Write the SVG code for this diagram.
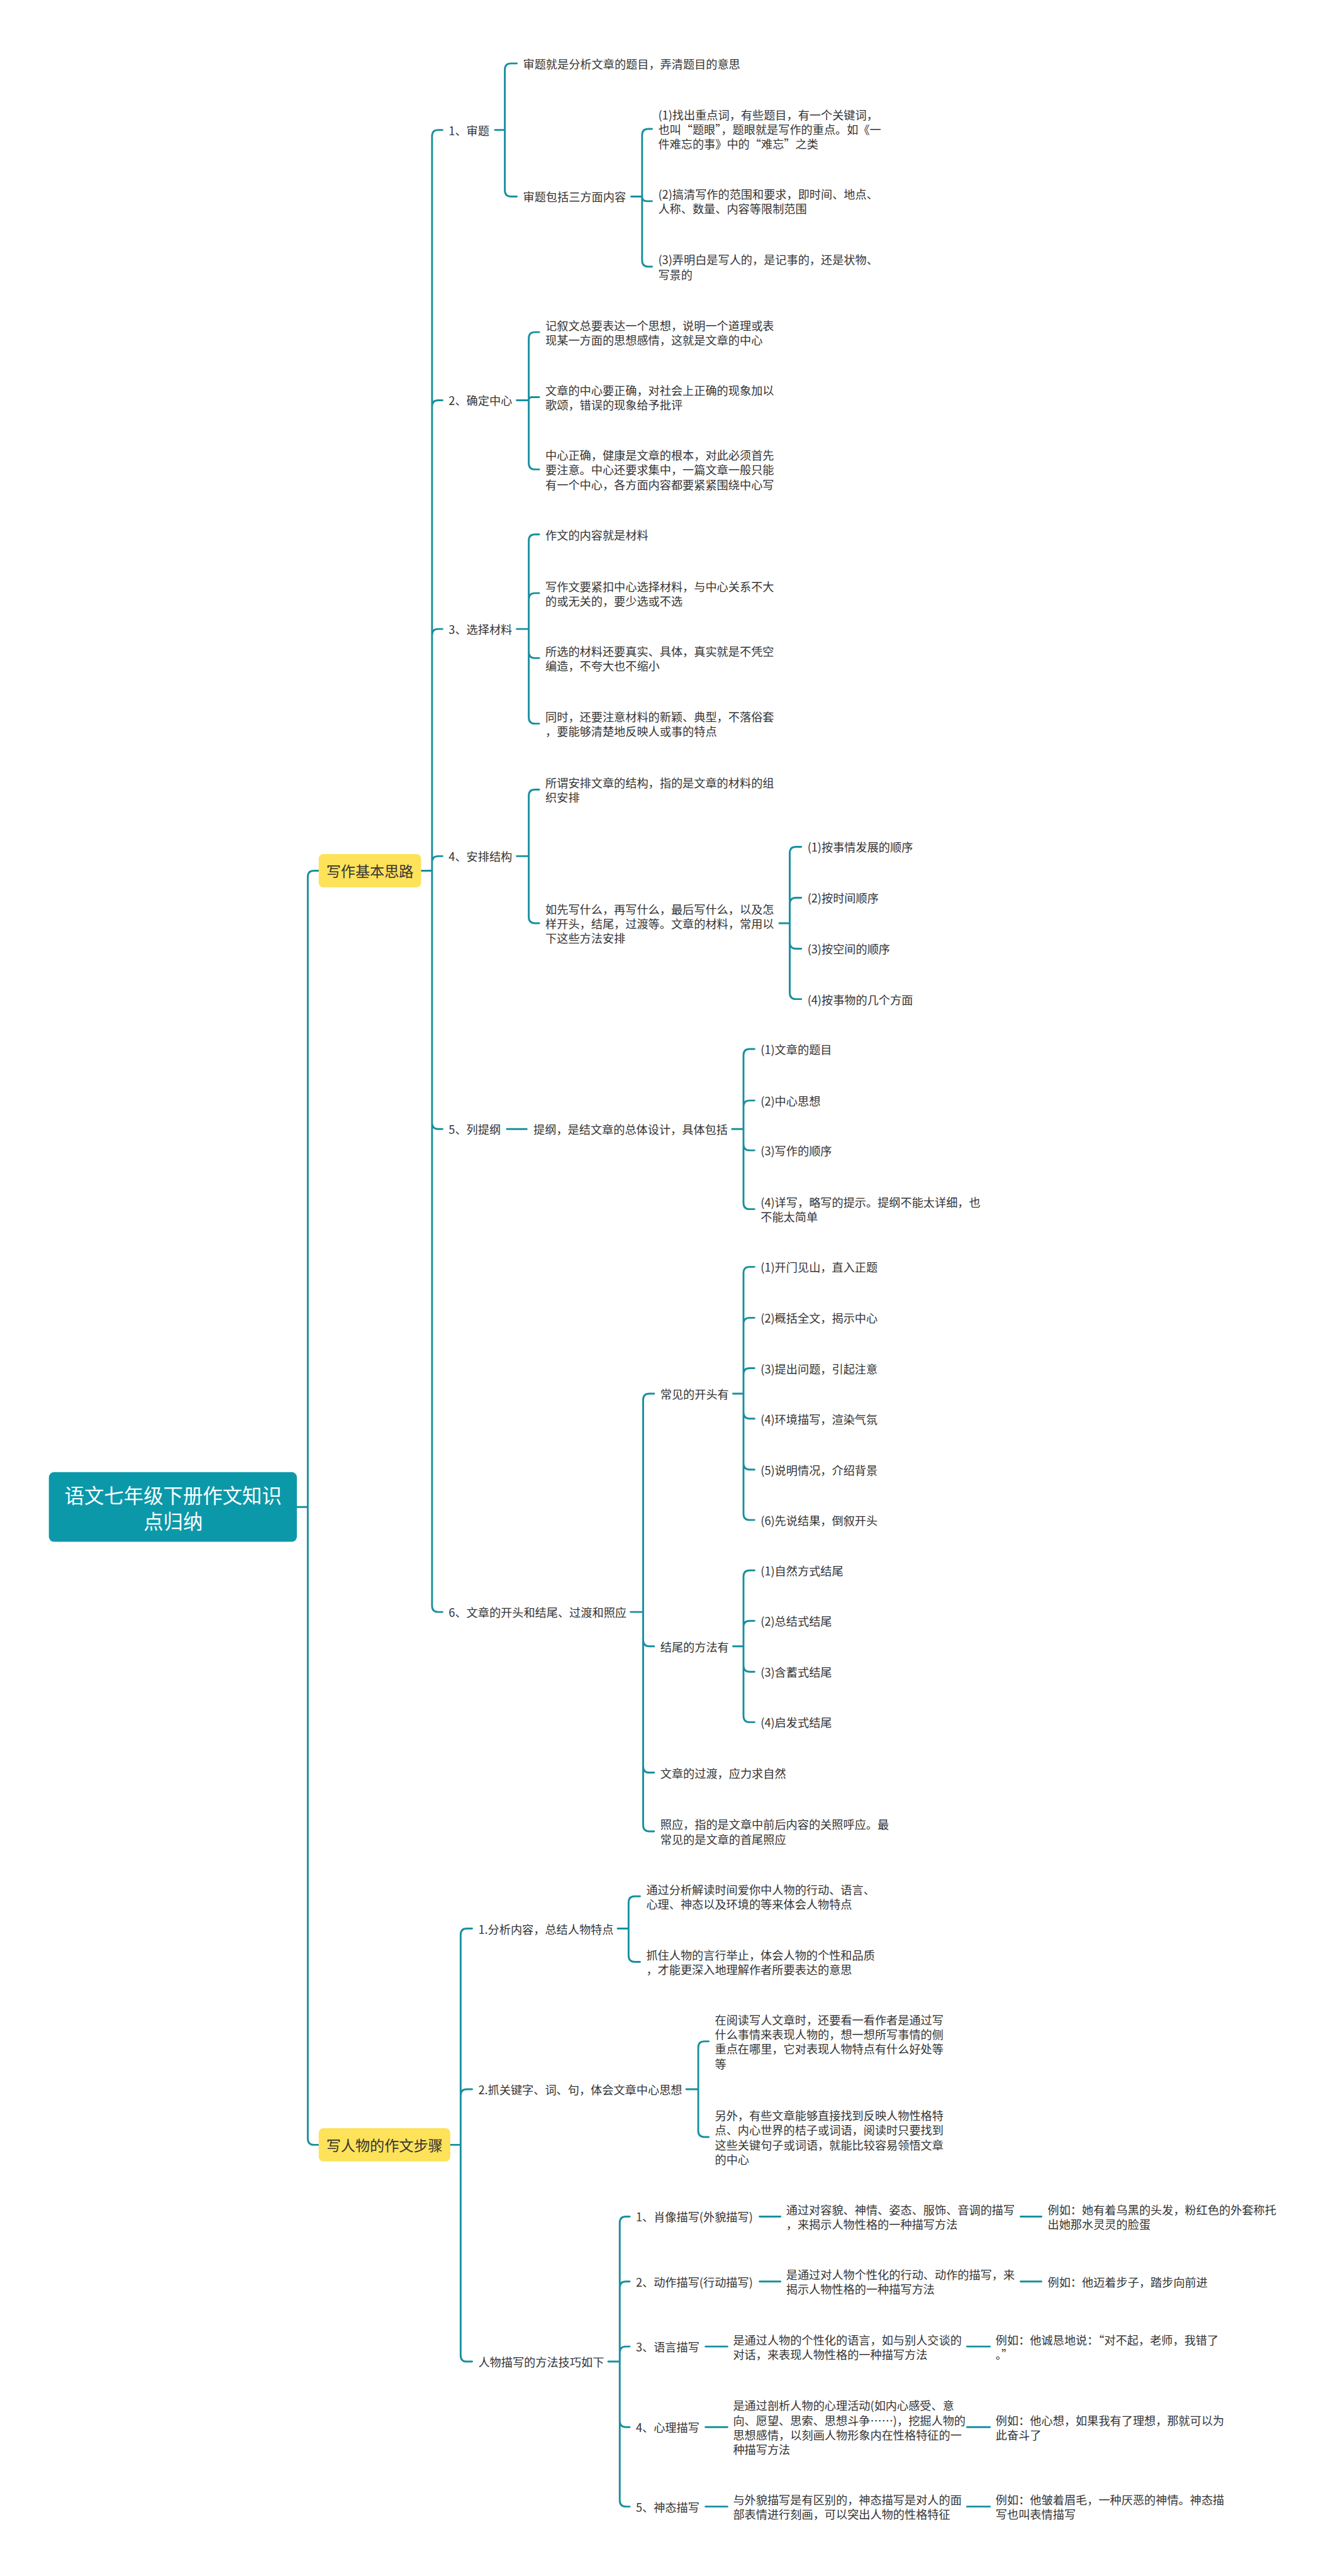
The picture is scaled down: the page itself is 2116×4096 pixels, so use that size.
<svg xmlns="http://www.w3.org/2000/svg" width="2116" height="4096" viewBox="0 0 2116 4096">
<style>
.t{font-family:"Noto Sans CJK SC","Noto Sans",sans-serif;font-size:22px;fill:#333333;dominant-baseline:central}
.l1{font-size:28px;fill:#333333}
.root{font-family:"Noto Sans CJK SC","Noto Sans",sans-serif;font-size:38px;fill:#ffffff;text-anchor:middle;dominant-baseline:central}
.mid{text-anchor:middle}
.c{fill:none;stroke:#17909e;stroke-width:3.5;stroke-linecap:round;stroke-linejoin:round}
.yb{fill:#fde25a}
</style>
<rect width="2116" height="4096" fill="#ffffff"/>
<g transform="scale(0.82656)">
<g id="connectors" class="c">
<path d="M571 2899H592M592 2899V1687Q592 1675 604 1675H613M592 2899V4114Q592 4126 604 4126H613"/>
<path d="M810 1675H831M831 1675V262Q831 250 843 250H851M831 1675V782Q831 770 843 770H851M831 1675V1222Q831 1210 843 1210H851M831 1675V1659Q831 1647 843 1647H851M831 1675V2160Q831 2172 843 2172H851M831 1675V3089Q831 3101 843 3101H851"/>
<path d="M952 250H971M971 250V134Q971 122 983 122H994M971 250V366Q971 378 983 378H994"/>
<path d="M1214 378H1235M1235 378V260Q1235 248 1247 248H1254M1235 378Q1235 387 1244 387H1254M1235 378V501Q1235 513 1247 513H1254"/>
<path d="M994 770H1017M1017 770V651Q1017 639 1029 639H1037M1017 770Q1017 764 1023 764H1037M1017 770V891Q1017 903 1029 903H1037"/>
<path d="M994 1210H1017M1017 1210V1040Q1017 1028 1029 1028H1037M1017 1210V1153Q1017 1141 1029 1141H1037M1017 1210V1254Q1017 1266 1029 1266H1037M1017 1210V1380Q1017 1392 1029 1392H1037"/>
<path d="M994 1647H1017M1017 1647V1531Q1017 1519 1029 1519H1037M1017 1647V1764Q1017 1776 1029 1776H1037"/>
<path d="M1499 1776H1519M1519 1776V1641Q1519 1629 1531 1629H1541M1519 1776V1739Q1519 1727 1531 1727H1541M1519 1776V1813Q1519 1825 1531 1825H1541M1519 1776V1910Q1519 1922 1531 1922H1541"/>
<path d="M975 2172H1013M1408 2172H1430M1430 2172V2030Q1430 2018 1442 2018H1451M1430 2172V2129Q1430 2117 1442 2117H1451M1430 2172V2201Q1430 2213 1442 2213H1451M1430 2172V2314Q1430 2326 1442 2326H1451"/>
<path d="M1213 3101H1237M1237 3101V2693Q1237 2681 1249 2681H1258M1237 3101V3155Q1237 3167 1249 3167H1258M1237 3101V3398Q1237 3410 1249 3410H1258M1237 3101V3511Q1237 3523 1249 3523H1258"/>
<path d="M1410 2681H1430M1430 2681V2449Q1430 2437 1442 2437H1451M1430 2681V2547Q1430 2535 1442 2535H1451M1430 2681V2644Q1430 2632 1442 2632H1451M1430 2681V2717Q1430 2729 1442 2729H1451M1430 2681V2815Q1430 2827 1442 2827H1451M1430 2681V2912Q1430 2924 1442 2924H1451"/>
<path d="M1410 3167H1430M1430 3167V3033Q1430 3021 1442 3021H1451M1430 3167V3130Q1430 3118 1442 3118H1451M1430 3167V3204Q1430 3216 1442 3216H1451M1430 3167V3301Q1430 3313 1442 3313H1451"/>
<path d="M866 4126H886M886 4126V3722Q886 3710 898 3710H908M886 4126V4031Q886 4019 898 4019H908M886 4126V4531Q886 4543 898 4543H908"/>
<path d="M1188 3710H1209M1209 3710V3660Q1209 3648 1221 3648H1231M1209 3710V3762Q1209 3774 1221 3774H1231"/>
<path d="M1320 4019H1343M1343 4019V3939Q1343 3927 1355 3927H1363M1343 4019V4099Q1343 4111 1355 4111H1363"/>
<path d="M1170 4543H1192M1192 4543V4276Q1192 4264 1204 4264H1211M1192 4543V4401Q1192 4389 1204 4389H1211M1192 4543V4526Q1192 4514 1204 4514H1211M1192 4543V4657Q1192 4669 1204 4669H1211M1192 4543V4810Q1192 4822 1204 4822H1211"/>
<path d="M1461 4264H1501M1963 4264H2003M1461 4389H1501M1963 4389H2003M1357 4514H1399M1860 4514H1904M1357 4669H1399M1860 4669H1904M1357 4822H1399M1860 4822H1904"/>
</g>

<g id="n-root"><rect x="94" y="2832" width="477" height="134" rx="10" fill="#0b99aa"/><text class="root"><tspan x="333" y="2874">语文七年级下册作文知识</tspan><tspan x="333" y="2924">点归纳</tspan></text></g>

<g id="n-b1"><rect class="yb" x="613" y="1643" width="197" height="64" rx="9"/><text class="t l1 mid" x="711.5" y="1675">写作基本思路</text></g>
<g id="n-b2"><rect class="yb" x="613" y="4094" width="253" height="64" rx="9"/><text class="t l1 mid" x="739.5" y="4126">写人物的作文步骤</text></g>

<g id="n-1"><text class="t" x="863" y="250">1、审题</text></g>
<g id="n-1a"><text class="t" x="1006" y="122">审题就是分析文章的题目，弄清题目的意思</text></g>
<g id="n-1b"><text class="t" x="1006" y="378">审题包括三方面内容</text></g>
<g id="n-1b1"><text class="t"><tspan x="1266" y="220">(1)找出重点词，有些题目，有一个关键词，</tspan><tspan x="1266" y="248">也叫“题眼”，题眼就是写作的重点。如《一</tspan><tspan x="1266" y="276">件难忘的事》中的“难忘”之类</tspan></text></g>
<g id="n-1b2"><text class="t"><tspan x="1266" y="373">(2)搞清写作的范围和要求，即时间、地点、</tspan><tspan x="1266" y="401">人称、数量、内容等限制范围</tspan></text></g>
<g id="n-1b3"><text class="t"><tspan x="1266" y="499">(3)弄明白是写人的，是记事的，还是状物、</tspan><tspan x="1266" y="527">写景的</tspan></text></g>

<g id="n-2"><text class="t" x="863" y="770">2、确定中心</text></g>
<g id="n-2a"><text class="t"><tspan x="1049" y="625">记叙文总要表达一个思想，说明一个道理或表</tspan><tspan x="1049" y="653">现某一方面的思想感情，这就是文章的中心</tspan></text></g>
<g id="n-2b"><text class="t"><tspan x="1049" y="750">文章的中心要正确，对社会上正确的现象加以</tspan><tspan x="1049" y="778">歌颂，错误的现象给予批评</tspan></text></g>
<g id="n-2c"><text class="t"><tspan x="1049" y="875">中心正确，健康是文章的根本，对此必须首先</tspan><tspan x="1049" y="903">要注意。中心还要求集中，一篇文章一般只能</tspan><tspan x="1049" y="931">有一个中心，各方面内容都要紧紧围绕中心写</tspan></text></g>

<g id="n-3"><text class="t" x="863" y="1210">3、选择材料</text></g>
<g id="n-3a"><text class="t" x="1049" y="1028">作文的内容就是材料</text></g>
<g id="n-3b"><text class="t"><tspan x="1049" y="1127">写作文要紧扣中心选择材料，与中心关系不大</tspan><tspan x="1049" y="1155">的或无关的，要少选或不选</tspan></text></g>
<g id="n-3c"><text class="t"><tspan x="1049" y="1252">所选的材料还要真实、具体，真实就是不凭空</tspan><tspan x="1049" y="1280">编造，不夸大也不缩小</tspan></text></g>
<g id="n-3d"><text class="t"><tspan x="1049" y="1378">同时，还要注意材料的新颖、典型，不落俗套</tspan><tspan x="1049" y="1406">，要能够清楚地反映人或事的特点</tspan></text></g>

<g id="n-4"><text class="t" x="863" y="1647">4、安排结构</text></g>
<g id="n-4a"><text class="t"><tspan x="1049" y="1505">所谓安排文章的结构，指的是文章的材料的组</tspan><tspan x="1049" y="1533">织安排</tspan></text></g>
<g id="n-4b"><text class="t"><tspan x="1049" y="1748">如先写什么，再写什么，最后写什么，以及怎</tspan><tspan x="1049" y="1776">样开头，结尾，过渡等。文章的材料，常用以</tspan><tspan x="1049" y="1804">下这些方法安排</tspan></text></g>
<g id="n-4b1"><text class="t" x="1553" y="1629">(1)按事情发展的顺序</text></g>
<g id="n-4b2"><text class="t" x="1553" y="1727">(2)按时间顺序</text></g>
<g id="n-4b3"><text class="t" x="1553" y="1825">(3)按空间的顺序</text></g>
<g id="n-4b4"><text class="t" x="1553" y="1922">(4)按事物的几个方面</text></g>

<g id="n-5"><text class="t" x="863" y="2172">5、列提纲</text></g>
<g id="n-5a"><text class="t" x="1026" y="2172">提纲，是结文章的总体设计，具体包括</text></g>
<g id="n-5a1"><text class="t" x="1463" y="2018">(1)文章的题目</text></g>
<g id="n-5a2"><text class="t" x="1463" y="2117">(2)中心思想</text></g>
<g id="n-5a3"><text class="t" x="1463" y="2213">(3)写作的顺序</text></g>
<g id="n-5a4"><text class="t"><tspan x="1463" y="2312">(4)详写，略写的提示。提纲不能太详细，也</tspan><tspan x="1463" y="2340">不能太简单</tspan></text></g>

<g id="n-6"><text class="t" x="863" y="3101">6、文章的开头和结尾、过渡和照应</text></g>
<g id="n-6a"><text class="t" x="1270" y="2681">常见的开头有</text></g>
<g id="n-6a1"><text class="t" x="1463" y="2437">(1)开门见山，直入正题</text></g>
<g id="n-6a2"><text class="t" x="1463" y="2535">(2)概括全文，揭示中心</text></g>
<g id="n-6a3"><text class="t" x="1463" y="2632">(3)提出问题，引起注意</text></g>
<g id="n-6a4"><text class="t" x="1463" y="2729">(4)环境描写，渲染气氛</text></g>
<g id="n-6a5"><text class="t" x="1463" y="2827">(5)说明情况，介绍背景</text></g>
<g id="n-6a6"><text class="t" x="1463" y="2924">(6)先说结果，倒叙开头</text></g>
<g id="n-6b"><text class="t" x="1270" y="3167">结尾的方法有</text></g>
<g id="n-6b1"><text class="t" x="1463" y="3021">(1)自然方式结尾</text></g>
<g id="n-6b2"><text class="t" x="1463" y="3118">(2)总结式结尾</text></g>
<g id="n-6b3"><text class="t" x="1463" y="3216">(3)含蓄式结尾</text></g>
<g id="n-6b4"><text class="t" x="1463" y="3313">(4)启发式结尾</text></g>
<g id="n-6c"><text class="t" x="1270" y="3410">文章的过渡，应力求自然</text></g>
<g id="n-6d"><text class="t"><tspan x="1270" y="3509">照应，指的是文章中前后内容的关照呼应。最</tspan><tspan x="1270" y="3537">常见的是文章的首尾照应</tspan></text></g>

<g id="n-p1"><text class="t" x="920" y="3710">1.分析内容，总结人物特点</text></g>
<g id="n-p1a"><text class="t"><tspan x="1243" y="3634">通过分析解读时间爱你中人物的行动、语言、</tspan><tspan x="1243" y="3662">心理、神态以及环境的等来体会人物特点</tspan></text></g>
<g id="n-p1b"><text class="t"><tspan x="1243" y="3760">抓住人物的言行举止，体会人物的个性和品质</tspan><tspan x="1243" y="3788">，才能更深入地理解作者所要表达的意思</tspan></text></g>

<g id="n-p2"><text class="t" x="920" y="4019">2.抓关键字、词、句，体会文章中心思想</text></g>
<g id="n-p2a"><text class="t"><tspan x="1375" y="3885">在阅读写人文章时，还要看一看作者是通过写</tspan><tspan x="1375" y="3913">什么事情来表现人物的，想一想所写事情的侧</tspan><tspan x="1375" y="3941">重点在哪里，它对表现人物特点有什么好处等</tspan><tspan x="1375" y="3969">等</tspan></text></g>
<g id="n-p2b"><text class="t"><tspan x="1375" y="4069">另外，有些文章能够直接找到反映人物性格特</tspan><tspan x="1375" y="4097">点、内心世界的桔子或词语，阅读时只要找到</tspan><tspan x="1375" y="4125">这些关键句子或词语，就能比较容易领悟文章</tspan><tspan x="1375" y="4153">的中心</tspan></text></g>

<g id="n-p3"><text class="t" x="920" y="4543">人物描写的方法技巧如下</text></g>
<g id="n-p3-1"><text class="t" x="1223" y="4264">1、肖像描写(外貌描写)</text></g>
<g id="n-p3-1a"><text class="t"><tspan x="1512" y="4250">通过对容貌、神情、姿态、服饰、音调的描写</tspan><tspan x="1512" y="4278">，来揭示人物性格的一种描写方法</tspan></text></g>
<g id="n-p3-1b"><text class="t"><tspan x="2015" y="4250">例如：她有着乌黑的头发，粉红色的外套称托</tspan><tspan x="2015" y="4278">出她那水灵灵的脸蛋</tspan></text></g>
<g id="n-p3-2"><text class="t" x="1223" y="4389">2、动作描写(行动描写)</text></g>
<g id="n-p3-2a"><text class="t"><tspan x="1512" y="4375">是通过对人物个性化的行动、动作的描写，来</tspan><tspan x="1512" y="4403">揭示人物性格的一种描写方法</tspan></text></g>
<g id="n-p3-2b"><text class="t" x="2015" y="4389">例如：他迈着步子，踏步向前进</text></g>
<g id="n-p3-3"><text class="t" x="1223" y="4514">3、语言描写</text></g>
<g id="n-p3-3a"><text class="t"><tspan x="1410" y="4500">是通过人物的个性化的语言，如与别人交谈的</tspan><tspan x="1410" y="4528">对话，来表现人物性格的一种描写方法</tspan></text></g>
<g id="n-p3-3b"><text class="t"><tspan x="1915" y="4500">例如：他诚恳地说：“对不起，老师，我错了</tspan><tspan x="1915" y="4528">。”</tspan></text></g>
<g id="n-p3-4"><text class="t" x="1223" y="4669">4、心理描写</text></g>
<g id="n-p3-4a"><text class="t"><tspan x="1410" y="4627">是通过剖析人物的心理活动(如内心感受、意</tspan><tspan x="1410" y="4655">向、愿望、思索、思想斗争……)，挖掘人物的</tspan><tspan x="1410" y="4683">思想感情，以刻画人物形象内在性格特征的一</tspan><tspan x="1410" y="4711">种描写方法</tspan></text></g>
<g id="n-p3-4b"><text class="t"><tspan x="1915" y="4655">例如：他心想，如果我有了理想，那就可以为</tspan><tspan x="1915" y="4683">此奋斗了</tspan></text></g>
<g id="n-p3-5"><text class="t" x="1223" y="4822">5、神态描写</text></g>
<g id="n-p3-5a"><text class="t"><tspan x="1410" y="4808">与外貌描写是有区别的，神态描写是对人的面</tspan><tspan x="1410" y="4836">部表情进行刻画，可以突出人物的性格特征</tspan></text></g>
<g id="n-p3-5b"><text class="t"><tspan x="1915" y="4808">例如：他皱着眉毛，一种厌恶的神情。神态描</tspan><tspan x="1915" y="4836">写也叫表情描写</tspan></text></g>
</g>
</svg>
